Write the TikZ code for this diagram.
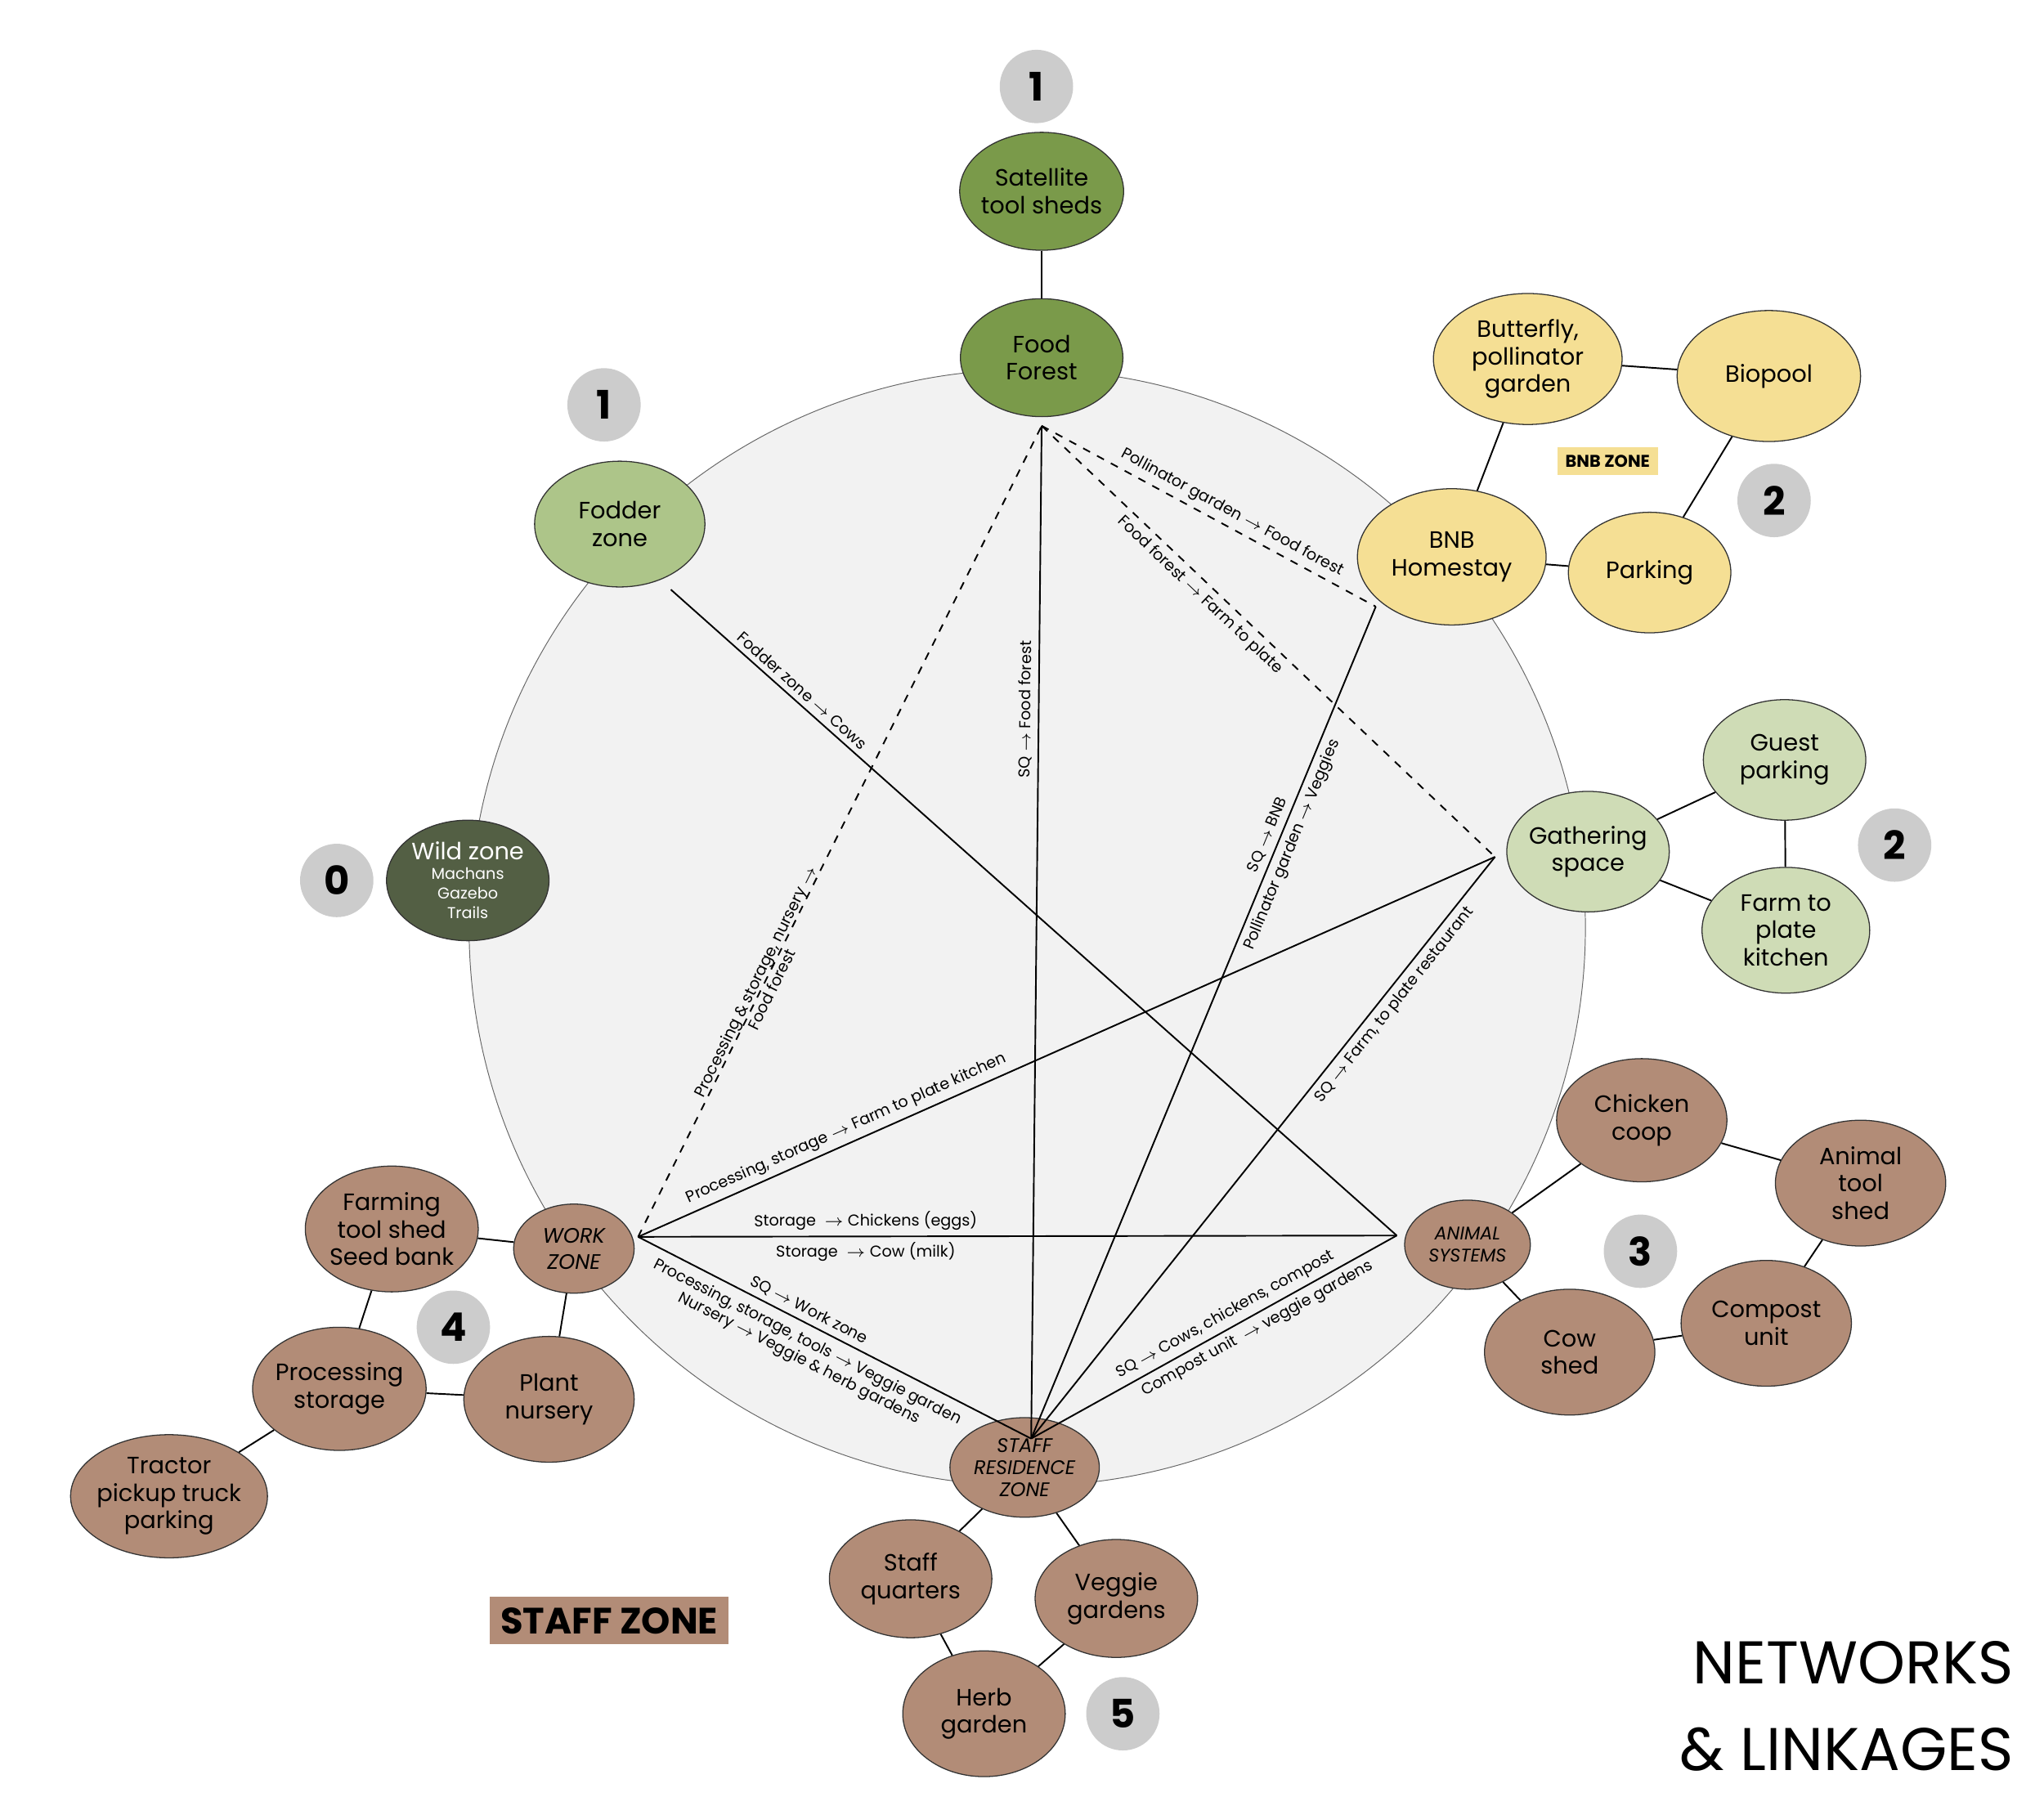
\documentclass[tikz,border=0pt]{standalone}
\usepackage{fontspec}
\setmainfont{Poppins}
\usetikzlibrary{shapes.geometric}
\begin{document}
\begin{tikzpicture}[x=0.5pt,y=-0.5pt,
 zn/.style={ellipse,draw=black!80,line width=0.4pt,inner sep=-1pt,align=center,font=\fontsize{9}{10.5}\selectfont},
 dg/.style={zn,fill={rgb,255:red,122;green,154;blue,74}},
 lg/.style={zn,fill={rgb,255:red,173;green,197;blue,137}},
 wz/.style={zn,fill={rgb,255:red,83;green,95;blue,68},text=white},
 yz/.style={zn,fill={rgb,255:red,245;green,223;blue,148}},
 pg/.style={zn,fill={rgb,255:red,207;green,220;blue,182}},
 bz/.style={zn,fill={rgb,255:red,178;green,140;blue,119}},
 num/.style={circle,fill={rgb,255:red,204;green,204;blue,204},minimum size=28pt,inner sep=0pt,font=\bfseries\fontsize{15}{15}\selectfont},
 ln/.style={line width=0.6pt},
 lk/.style={line width=0.6pt},
 el/.style={sloped,font=\fontsize{6}{7}\selectfont,inner sep=2pt,align=center}]
\useasboundingbox (0,0) rectangle (1560,1385);
\node[circle,fill=black!5,draw=black!60,line width=0.3pt,minimum size=426pt] (big) at (784,708) {};
% nodes
\node[dg,minimum width=62pt,minimum height=45pt] (sat) at (795,146) {Satellite\\tool sheds};
\node[dg,minimum width=62pt,minimum height=45pt] (ff) at (795,273) {Food\\Forest};
\node[num] (n1a) at (791,66) {1};
\node[lg,minimum width=65pt,minimum height=48pt] (fod) at (473,400) {Fodder\\zone};
\node[num] (n1b) at (461,309) {1};
\node[wz,minimum width=62pt,minimum height=46pt] (wild) at (357,672) {Wild zone\\[-3pt]{\fontsize{6}{7}\selectfont Machans}\\[-3pt]{\fontsize{6}{7}\selectfont Gazebo}\\[-3pt]{\fontsize{6}{7}\selectfont Trails}};
\node[num] (n0) at (257,672) {0};
\node[yz,minimum width=72pt,minimum height=50pt] (but) at (1166,274) {Butterfly,\\pollinator\\garden};
\node[yz,minimum width=70pt,minimum height=50pt] (bio) at (1350,287) {Biopool};
\node[yz,minimum width=72pt,minimum height=52pt] (bnb) at (1108,425) {BNB\\Homestay};
\node[yz,minimum width=62pt,minimum height=46pt] (park) at (1259,437) {Parking};
\node[fill={rgb,255:red,245;green,223;blue,148},font=\bfseries\fontsize{6.5}{7}\selectfont,inner sep=3pt] (bnbz) at (1227,352) {BNB ZONE};
\node[num] (n2a) at (1354,382) {2};
\node[pg,minimum width=62pt,minimum height=46pt] (gp) at (1362,580) {Guest\\parking};
\node[pg,minimum width=62pt,minimum height=46pt] (gs) at (1212,650) {Gathering\\space};
\node[pg,minimum width=64pt,minimum height=48pt] (ftp) at (1363,710) {Farm to\\plate\\kitchen};
\node[num] (n2b) at (1446,645) {2};
\node[bz,minimum width=65pt,minimum height=47pt] (chk) at (1253,855) {Chicken\\coop};
\node[bz,minimum width=65pt,minimum height=48pt] (ats) at (1420,903) {Animal\\tool\\shed};
\node[bz,minimum width=65pt,minimum height=48pt] (cmp) at (1348,1010) {Compost\\unit};
\node[bz,minimum width=65pt,minimum height=48pt] (cow) at (1198,1032) {Cow\\shed};
\node[bz,minimum width=48pt,minimum height=34pt,font=\itshape\fontsize{7}{8.5}\selectfont] (anim) at (1120,950) {ANIMAL\\SYSTEMS};
\node[num] (n3) at (1252,955) {3};
\node[bz,minimum width=46pt,minimum height=34pt,font=\itshape\fontsize{8}{10}\selectfont] (work) at (438,953) {WORK\\ZONE};
\node[bz,minimum width=66pt,minimum height=48pt] (fts) at (299,938) {Farming\\tool shed\\Seed bank};
\node[num] (n4) at (346,1013) {4};
\node[bz,minimum width=66pt,minimum height=47pt] (proc) at (259,1060) {Processing\\storage};
\node[bz,minimum width=65pt,minimum height=48pt] (nurs) at (419,1068) {Plant\\nursery};
\node[bz,minimum width=62pt,minimum height=47pt] (trac) at (129,1142) {Tractor\\pickup truck\\parking};
\node[bz,minimum width=57pt,minimum height=38pt,font=\itshape\fontsize{7.5}{8.5}\selectfont] (staff) at (782,1120) {STAFF\\RESIDENCE\\ZONE};
\node[bz,minimum width=62pt,minimum height=45pt] (sq) at (695,1205) {Staff\\quarters};
\node[bz,minimum width=62pt,minimum height=45pt] (veg) at (852,1220) {Veggie\\gardens};
\node[bz,minimum width=62pt,minimum height=48pt] (herb) at (751,1308) {Herb\\garden};
\node[num] (n5) at (857,1308) {5};
\node[fill={rgb,255:red,178;green,140;blue,119},font=\bfseries\fontsize{14}{14}\selectfont,inner sep=4pt] (stz) at (465,1237) {STAFF ZONE};
\node[anchor=east,align=right,font=\fontsize{23}{33}\selectfont,inner sep=0pt] (title) at (1537,1302) {NETWORKS\\\& LINKAGES};
% local connectors
\draw[ln] (sat) -- (ff);
\draw[ln] (but) -- (bio); \draw[ln] (but) -- (bnb); \draw[ln] (bio) -- (park); \draw[ln] (bnb) -- (park);
\draw[ln] (gs) -- (gp); \draw[ln] (gs) -- (ftp); \draw[ln] (gp) -- (ftp);
\draw[ln] (anim) -- (chk); \draw[ln] (anim) -- (cow); \draw[ln] (chk) -- (ats); \draw[ln] (ats) -- (cmp); \draw[ln] (cmp) -- (cow);
\draw[ln] (work) -- (fts); \draw[ln] (work) -- (nurs); \draw[ln] (fts) -- (proc); \draw[ln] (proc) -- (nurs); \draw[ln] (proc) -- (trac);
\draw[ln] (staff) -- (sq); \draw[ln] (staff) -- (veg); \draw[ln] (sq) -- (herb); \draw[ln] (veg) -- (herb);
% hubs
\coordinate (F) at (795,325);
\coordinate (W) at (487,944);
\coordinate (A) at (1066,943);
\coordinate (S) at (787,1098);
\coordinate (B) at (1050,463);
\coordinate (G) at (1141,654);
\coordinate (D) at (512,450);
% links
\draw[lk,dashed] (W) -- (F) node[el,pos=0.31] {Processing \& storage, nursery $\rightarrow$\\Food forest};
\draw[lk] (S) -- (F) node[el,pos=0.72,above] {SQ $\rightarrow$ Food forest};
\draw[lk,dashed] (F) -- (B) node[el,pos=0.55,above] {Pollinator garden $\rightarrow$ Food forest};
\draw[lk,dashed] (F) -- (G) node[el,pos=0.37,below] {Food forest $\rightarrow$ Farm to plate};
\draw[lk] (S) -- (B) node[el,pos=0.72,above] {SQ $\rightarrow$ BNB} node[el,pos=0.72,below] {Pollinator garden $\rightarrow$ Veggies};
\draw[lk] (S) -- (G) node[el,pos=0.76,below] {SQ $\rightarrow$ Farm, to plate restaurant};
\draw[lk] (W) -- (G) node[el,pos=0.25,above] {Processing, storage $\rightarrow$ Farm to plate kitchen};
\draw[lk] (W) -- (A) node[el,pos=0.3,above] {Storage \ $\rightarrow$ Chickens (eggs)} node[el,pos=0.3,below] {Storage \ $\rightarrow$ Cow (milk)};
\draw[lk] (W) -- (S) node[el,pos=0.42,above] {SQ $\rightarrow$ Work zone} node[el,pos=0.45,below,inner sep=3pt] {Processing, storage, tools $\rightarrow$ Veggie garden\\Nursery $\rightarrow$ Veggie \& herb gardens};
\draw[lk] (S) -- (A) node[el,pos=0.55,above] {SQ $\rightarrow$ Cows, chickens, compost} node[el,pos=0.6,below] {Compost unit \ $\rightarrow$ veggie gardens};
\draw[lk] (D) -- (A) node[el,pos=0.17,above] {Fodder zone $\rightarrow$ Cows};
\end{tikzpicture}
\end{document}
